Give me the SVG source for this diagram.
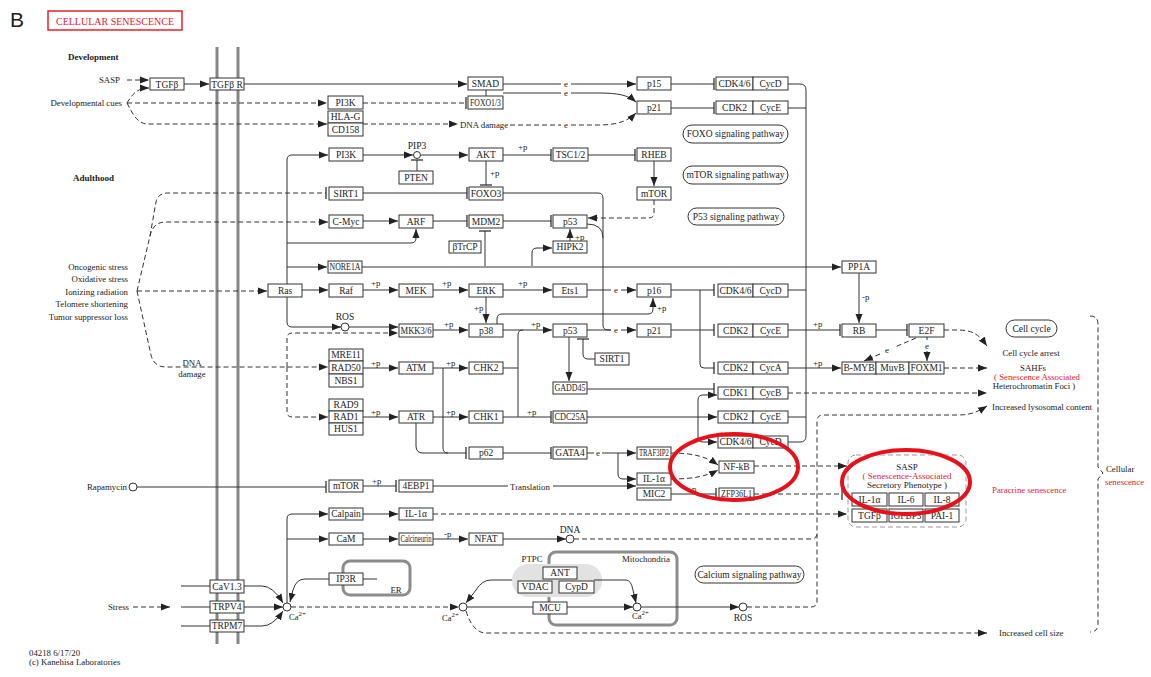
<svg xmlns="http://www.w3.org/2000/svg" width="1151" height="677" viewBox="0 0 1151 677">
<defs>
<style>
.b{fill:#fff;stroke:#333;stroke-width:1}
.pill{fill:#fff;stroke:#333;stroke-width:1}
text{font-family:"Liberation Serif","Times New Roman",serif;font-size:9.5px;fill:#222}
.t{text-anchor:middle}
.lab text{font-size:8.8px}
.lab text.e{font-size:9px;text-anchor:middle}
.s{fill:none;stroke:#333;stroke-width:1}
.d{fill:none;stroke:#333;stroke-width:1;stroke-dasharray:5 3}
.a{marker-end:url(#arr)}
.i{marker-end:url(#inh)}
text.red,.red{fill:#e8202a}
.mem{stroke:#868686;stroke-width:3}
.org{fill:none;stroke:#8c8c8c;stroke-width:3}
.lab text.bold{font-weight:bold;font-size:9px}
.cir{fill:#fff;stroke:#333;stroke-width:1}
.hl{fill:none;stroke:#e8101a;stroke-width:4}
</style>
<marker id="arr" markerUnits="userSpaceOnUse" markerWidth="9" markerHeight="8" viewBox="0 0 9 8" refX="9" refY="4" orient="auto"><path d="M0,0.5 L9,4 L0,7.5z" fill="#222"/></marker>
<marker id="inh" markerUnits="userSpaceOnUse" markerWidth="2" markerHeight="12" viewBox="0 0 2 12" refX="1" refY="6" orient="auto"><path d="M1,0 V12" stroke="#222" stroke-width="1.2"/></marker>
</defs>
<rect width="1151" height="677" fill="#fff"/>
<g id="title">
<text x="10" y="27" style="font-family:'Liberation Sans',Arial,sans-serif;font-size:21px">B</text>
<rect x="48" y="11" width="134" height="19" fill="#fff" stroke="#e8202a" stroke-width="1.5"/>
<text class="t red" x="115" y="25" style="font-size:10px">CELLULAR SENESCENCE</text>
</g>
<g id="membrane">
<line class="mem" x1="217" y1="47" x2="217" y2="644"/>
<line class="mem" x1="238" y1="47" x2="238" y2="644"/>
</g>
<g id="compartments">
<rect id="ER" class="org" x="343" y="561" width="67" height="34" rx="7"/>
<rect id="Mitochondria" class="org" x="549" y="552" width="128" height="73" rx="7"/>
<rect id="PTPC" x="512" y="564" width="90" height="33" rx="16" fill="#e2e2e2"/>
<rect id="SASP-box" x="848" y="455" width="118" height="72" rx="8" fill="none" stroke="#999" stroke-dasharray="5 3"/>
</g>
<g id="connectors">
<path class="d a" d="M127,80 H149"/>
<path class="d a" d="M127,103 C133,93 138,88 149,88"/>
<path class="d a" d="M127,103 H327"/>
<path class="d a" d="M127,103 C133,115 138,124 148,124 H327"/>
<path class="s a" d="M184,84 H209"/>
<path class="s a" d="M244,84 H467"/>
<path class="s" d="M486,90 V96"/>
<path class="d i" d="M363,103 H466"/>
<path class="d a" d="M363,124 H458"/>
<path class="s" d="M503,84 H561"/>
<path class="s a" d="M571,84 H636"/>
<path class="s" d="M503,93 H561"/>
<path class="s a" d="M571,93 H598 C618,93 628,95 636,102"/>
<path class="d" d="M510,125 H561"/>
<path class="d a" d="M571,125 H598 C618,125 628,121 636,113"/>
<path class="s i" d="M671,84 H714"/>
<path class="s i" d="M671,108 H714"/>
<path class="s" d="M788,84 H800 Q806,84 806,90 V436 Q806,442 800,442 H788"/>
<path class="s" d="M788,108 H806"/>
<path class="s" d="M788,290 H806"/>
<path class="s" d="M788,417 H806"/>
<path class="s a" d="M287,284 V160 Q287,155 292,155 H328"/>
<path class="s a" d="M287,243 H411 Q416,243 416,238 V229"/>
<path class="s a" d="M287,267 H327"/>
<path class="s a" d="M287,297 V322 Q287,327 292,327 H341"/>
<path class="s a" d="M349,327 H398"/>
<path class="d a" d="M287,367 V338 Q287,333 292,333 H398"/>
<path class="d a" d="M287,367 V412 Q287,417 292,417 H328"/>
<path class="d a" d="M137,291 L150,236 Q153,222 166,222 H328"/>
<path class="d i" d="M150,236 L156,202 Q158,193 168,193 H326"/>
<path class="d a" d="M137,291 H267"/>
<path class="d a" d="M137,291 L151,355 Q154,367 166,367 H328"/>
<path class="s a" d="M363,155 H413"/>
<path class="s a" d="M421,155 H468"/>
<path class="s i" d="M417,171 V160"/>
<path class="s i" d="M503,155 H551"/>
<path class="s i" d="M588,155 H635"/>
<path class="s a" d="M654,161 V186"/>
<path class="s i" d="M486,161 V185"/>
<path class="d a" d="M654,200 V213 Q654,218 649,218 H588"/>
<path class="s i" d="M363,193 H467"/>
<path class="s" d="M503,193 H598 Q603,193 603,198 V325 Q603,330 608,330 H611"/>
<path class="s" d="M587,224 Q603,224 603,238"/>
<path class="s a" d="M363,221 H398"/>
<path class="s i" d="M433,221 H467"/>
<path class="s i" d="M503,221 H551"/>
<path class="s i" d="M485,266 V231"/>
<path class="s a" d="M532,266 V253 Q532,248 537,248 H552"/>
<path class="s a" d="M570,241 V229"/>
<path class="s a" d="M362,267 H841"/>
<path class="s a" d="M302,290 H328"/>
<path class="s a" d="M363,290 H398"/>
<path class="s a" d="M433,290 H468"/>
<path class="s a" d="M503,290 H552"/>
<path class="s" d="M587,290 H611"/>
<path class="s a" d="M621,290 H636"/>
<path class="s a" d="M486,297 V323"/>
<path class="s a" d="M433,330 H468"/>
<path class="s a" d="M503,330 H552"/>
<path class="s a" d="M497,324 V319 Q497,314 502,314 H648 Q653,314 653,309 V298"/>
<path class="s" d="M587,330 H611"/>
<path class="s a" d="M621,330 H636"/>
<path class="s a" d="M569,337 V381"/>
<path class="s i" d="M595,359 H588 Q583,359 583,354 V339"/>
<path class="s i" d="M671,290 H714"/>
<path class="s i" d="M700,290 V364 Q700,368 704,368 H714"/>
<path class="s i" d="M671,330 H714"/>
<path class="s i" d="M788,330 H840"/>
<path class="s a" d="M859,273 V323"/>
<path class="s i" d="M876,330 H907"/>
<path class="s a" d="M788,368 H841"/>
<path class="d" d="M916,338 L895,347"/>
<path class="d a" d="M880,354 L864,361"/>
<path class="d" d="M927,337 V340"/>
<path class="d a" d="M927,351 V361"/>
<path class="d a" d="M944,330 H958 C974,330 980,336 987,346"/>
<path class="d a" d="M944,368 H987"/>
<path class="d a" d="M788,393 H987"/>
<path class="d a" d="M747,607 H811 Q817,607 817,601 V421 Q817,415 823,415 H958 C972,415 979,411 987,406"/>
<path class="d" d="M574,539 H811 Q817,539 817,533"/>
<path class="s i" d="M587,389 H714"/>
<path class="s a" d="M698,417 V400 Q698,395 703,395 H717"/>
<path class="s a" d="M698,417 V437 Q698,442 703,442 H717"/>
<path class="s a" d="M587,417 H717"/>
<path class="s" d="M503,368 H518"/>
<path class="s i" d="M503,417 H551"/>
<path class="s" d="M518,417 V335 Q518,330 523,330"/>
<path class="s a" d="M363,368 H398"/>
<path class="s a" d="M433,368 H468"/>
<path class="s a" d="M363,417 H398"/>
<path class="s a" d="M433,417 H468"/>
<path class="s" d="M443,368 V448 Q443,453 448,453"/>
<path class="s i" d="M416,423 V446 Q416,453 423,453 H466"/>
<path class="s i" d="M503,453 H551"/>
<path class="s" d="M587,453 H594"/>
<path class="s a" d="M602,453 H636"/>
<path class="s a" d="M618,453 V474 Q618,479 623,479 H636"/>
<path class="s" d="M433,486 H508"/>
<path class="s a" d="M553,486 H636"/>
<path class="d a" d="M671,453 C694,453 707,457 718,465"/>
<path class="d a" d="M671,479 C694,479 707,476 718,470"/>
<path class="s i" d="M671,494 H716"/>
<path class="d a" d="M754,466 H847"/>
<path class="d i" d="M754,494 H842"/>
<path class="d a" d="M433,514 H847"/>
<path class="s i" d="M137,487 H326"/>
<path class="s i" d="M363,486 H396"/>
<path class="s a" d="M287,603 V519 Q287,514 292,514 H328"/>
<path class="s a" d="M287,539 H328"/>
<path class="s a" d="M363,514 H398"/>
<path class="s a" d="M363,539 H398"/>
<path class="s a" d="M433,539 H468"/>
<path class="s a" d="M503,539 H566"/>
<path class="s" d="M363,579 H377"/>
<path class="s a" d="M329,579 H305 Q296,579 293,590 L290,602"/>
<path class="s" d="M181,586 H210"/>
<path class="s a" d="M244,586 H262 Q273,586 283,603"/>
<path class="s" d="M181,607 H210"/>
<path class="s a" d="M244,607 H283"/>
<path class="s" d="M181,626 H210"/>
<path class="s a" d="M244,626 H262 Q273,626 283,611"/>
<path class="d a" d="M133,607 H170"/>
<path class="d a" d="M291,607 H459"/>
<path class="s" d="M467,607 H533"/>
<path class="s a" d="M567,607 H633"/>
<path class="s a" d="M512,580 H491 Q482,580 476,590 L466,603"/>
<path class="s a" d="M594,580 H626 Q631,580 633,590 L636,603"/>
<path class="s a" d="M641,607 H739"/>
<path class="d a" d="M466,611 Q473,633 486,633 H987"/>
<path class="d" d="M1090,316 Q1098,316 1098,324 V467 L1103,473 L1098,479 V624 Q1098,632 1090,632"/>
</g>
<g id="edge-labels" class="lab">
<text class="e" x="566" y="87">e</text>
<text class="e" x="566" y="96">e</text>
<text class="e" x="566" y="128">e</text>
<text class="e" x="616" y="293">e</text>
<text class="e" x="616" y="333">e</text>
<text class="e" x="598" y="456">e</text>
<text class="e" x="887" y="353">e</text>
<text class="e" x="927" y="349">e</text>
<text x="518" y="150">+p</text>
<text x="490" y="176">+p</text>
<text x="575" y="240">+p</text>
<text x="371" y="286">+p</text>
<text x="442" y="286">+p</text>
<text x="518" y="286">+p</text>
<text x="474" y="311">+p</text>
<text x="444" y="327">+p</text>
<text x="531" y="327">+p</text>
<text x="657" y="311">+p</text>
<text x="813" y="327">+p</text>
<text x="813" y="366">+p</text>
<text x="862" y="300">-p</text>
<text x="371" y="366">+p</text>
<text x="446" y="366">+p</text>
<text x="371" y="415">+p</text>
<text x="446" y="415">+p</text>
<text x="527" y="415">+p</text>
<text x="372" y="484">+p</text>
<text x="444" y="537">-p</text>
<text x="687" y="492">+p</text>
</g>
<g id="nodes">
<g id="TGFb"><rect class="b" x="150" y="78" width="34" height="12"/><text class="t" x="167" y="87.5">TGFβ</text></g>
<g id="TGFbR"><rect class="b" x="210" y="78" width="34" height="12"/><text class="t" x="227" y="87.5">TGFβ R</text></g>
<g id="SMAD"><rect class="b" x="468" y="77" width="35" height="13"/><text class="t" x="485.5" y="87">SMAD</text></g>
<g id="FOXO13"><rect class="b" x="468" y="96" width="35" height="13"/><text class="t" x="485.5" y="106" textLength="31" lengthAdjust="spacingAndGlyphs">FOXO1/3</text></g>
<g id="PI3K-dev"><rect class="b" x="328" y="96" width="35" height="13"/><text class="t" x="345.5" y="106">PI3K</text></g>
<g id="HLAG-CD158"><rect class="b" x="328" y="111" width="35" height="12"/><text class="t" x="345.5" y="120">HLA-G</text><rect class="b" x="328" y="123" width="35" height="13"/><text class="t" x="345.5" y="133">CD158</text></g>
<g id="p15"><rect class="b" x="637" y="77" width="34" height="13"/><text class="t" x="654" y="87">p15</text></g>
<g id="p21-a"><rect class="b" x="637" y="101" width="34" height="13"/><text class="t" x="654" y="111">p21</text></g>
<g id="CDK46-a"><rect class="b" x="716" y="77" width="37" height="13"/><rect class="b" x="753" y="77" width="35" height="13"/><text class="t" x="734.5" y="87">CDK4/6</text><text class="t" x="770.5" y="87">CycD</text></g>
<g id="CDK2-a"><rect class="b" x="716" y="101" width="37" height="13"/><rect class="b" x="753" y="101" width="35" height="13"/><text class="t" x="734.5" y="111">CDK2</text><text class="t" x="770.5" y="111">CycE</text></g>
<g id="FOXO-pathway"><rect class="pill" x="683" y="125" width="105" height="18" rx="9"/><text class="t" x="735.5" y="137">FOXO signaling pathway</text></g>
<g id="mTOR-pathway"><rect class="pill" x="683" y="166" width="105" height="18" rx="9"/><text class="t" x="735.5" y="178">mTOR signaling pathway</text></g>
<g id="P53-pathway"><rect class="pill" x="688" y="208" width="96" height="17" rx="8.5"/><text class="t" x="736" y="219.5">P53 signaling pathway</text></g>
<g id="PI3K"><rect class="b" x="329" y="148" width="34" height="13"/><text class="t" x="346" y="158">PI3K</text></g>
<g id="PIP3"><circle class="cir" cx="417" cy="155" r="3.5"/><text class="t" x="417" y="149">PIP3</text></g>
<g id="PTEN"><rect class="b" x="399" y="171" width="34" height="13"/><text class="t" x="416" y="181">PTEN</text></g>
<g id="AKT"><rect class="b" x="469" y="148" width="34" height="13"/><text class="t" x="486" y="158">AKT</text></g>
<g id="TSC12"><rect class="b" x="553" y="148" width="35" height="13"/><text class="t" x="570.5" y="158">TSC1/2</text></g>
<g id="RHEB"><rect class="b" x="637" y="148" width="34" height="13"/><text class="t" x="654" y="158">RHEB</text></g>
<g id="mTOR-a"><rect class="b" x="637" y="187" width="34" height="13"/><text class="t" x="654" y="197">mTOR</text></g>
<g id="SIRT1-a"><rect class="b" x="329" y="187" width="34" height="13"/><text class="t" x="346" y="197">SIRT1</text></g>
<g id="FOXO3"><rect class="b" x="469" y="187" width="34" height="13"/><text class="t" x="486" y="197">FOXO3</text></g>
<g id="CMyc"><rect class="b" x="329" y="215" width="34" height="13"/><text class="t" x="346" y="225">C-Myc</text></g>
<g id="ARF"><rect class="b" x="399" y="215" width="34" height="13"/><text class="t" x="416" y="225">ARF</text></g>
<g id="MDM2"><rect class="b" x="469" y="215" width="34" height="13"/><text class="t" x="486" y="225">MDM2</text></g>
<g id="p53-a"><rect class="b" x="553" y="215" width="34" height="13"/><text class="t" x="570" y="225">p53</text></g>
<g id="bTrCP"><rect class="b" x="449" y="241" width="32" height="12"/><text class="t" x="465" y="250">βTrCP</text></g>
<g id="HIPK2"><rect class="b" x="553" y="241" width="34" height="12"/><text class="t" x="570" y="250">HIPK2</text></g>
<g id="NORE1A"><rect class="b" x="328" y="261" width="34" height="12"/><text class="t" x="345" y="270" textLength="31" lengthAdjust="spacingAndGlyphs">NORE1A</text></g>
<g id="PP1A"><rect class="b" x="842" y="261" width="34" height="12"/><text class="t" x="859" y="270">PP1A</text></g>
<g id="Ras"><rect class="b" x="268" y="284" width="34" height="13"/><text class="t" x="285" y="294">Ras</text></g>
<g id="Raf"><rect class="b" x="329" y="284" width="34" height="13"/><text class="t" x="346" y="294">Raf</text></g>
<g id="MEK"><rect class="b" x="399" y="284" width="34" height="13"/><text class="t" x="416" y="294">MEK</text></g>
<g id="ERK"><rect class="b" x="469" y="284" width="34" height="13"/><text class="t" x="486" y="294">ERK</text></g>
<g id="Ets1"><rect class="b" x="553" y="284" width="34" height="13"/><text class="t" x="570" y="294">Ets1</text></g>
<g id="p16"><rect class="b" x="637" y="284" width="34" height="13"/><text class="t" x="654" y="294">p16</text></g>
<g id="CDK46-b"><rect class="b" x="718" y="284" width="35" height="13"/><rect class="b" x="753" y="284" width="35" height="13"/><text class="t" x="735.5" y="294">CDK4/6</text><text class="t" x="770.5" y="294">CycD</text></g>
<g id="ROS-a"><circle class="cir" cx="345" cy="327" r="4"/><text class="t" x="345" y="320">ROS</text></g>
<g id="MKK36"><rect class="b" x="399" y="324" width="34" height="13"/><text class="t" x="416" y="334" textLength="31" lengthAdjust="spacingAndGlyphs">MKK3/6</text></g>
<g id="p38"><rect class="b" x="469" y="324" width="34" height="13"/><text class="t" x="486" y="334">p38</text></g>
<g id="p53-b"><rect class="b" x="553" y="324" width="34" height="13"/><text class="t" x="570" y="334">p53</text></g>
<g id="p21-b"><rect class="b" x="637" y="324" width="34" height="13"/><text class="t" x="654" y="334">p21</text></g>
<g id="CDK2-b"><rect class="b" x="718" y="324" width="35" height="13"/><rect class="b" x="753" y="324" width="35" height="13"/><text class="t" x="735.5" y="334">CDK2</text><text class="t" x="770.5" y="334">CycE</text></g>
<g id="RB"><rect class="b" x="842" y="324" width="34" height="13"/><text class="t" x="859" y="334">RB</text></g>
<g id="E2F"><rect class="b" x="909" y="324" width="35" height="13"/><text class="t" x="926.5" y="334">E2F</text></g>
<g id="SIRT1-b"><rect class="b" x="595" y="353" width="34" height="12"/><text class="t" x="612" y="362">SIRT1</text></g>
<g id="MRN"><rect class="b" x="329" y="349" width="34" height="12"/><text class="t" x="346" y="358">MRE11</text><rect class="b" x="329" y="361" width="34" height="13"/><text class="t" x="346" y="371">RAD50</text><rect class="b" x="329" y="374" width="34" height="13"/><text class="t" x="346" y="384">NBS1</text></g>
<g id="ATM"><rect class="b" x="399" y="362" width="34" height="12"/><text class="t" x="416" y="371">ATM</text></g>
<g id="CHK2"><rect class="b" x="469" y="362" width="34" height="12"/><text class="t" x="486" y="371">CHK2</text></g>
<g id="CDK2-c"><rect class="b" x="718" y="362" width="35" height="12"/><rect class="b" x="753" y="362" width="35" height="12"/><text class="t" x="735.5" y="371">CDK2</text><text class="t" x="770.5" y="371">CycA</text></g>
<g id="DREAM"><rect class="b" x="842" y="362" width="34" height="12"/><text class="t" x="859" y="371">B-MYB</text><rect class="b" x="876" y="362" width="33" height="12"/><text class="t" x="892.5" y="371">MuvB</text><rect class="b" x="909" y="362" width="35" height="12"/><text class="t" x="926.5" y="371">FOXM1</text></g>
<g id="GADD45"><rect class="b" x="553" y="382" width="34" height="12"/><text class="t" x="570" y="391" textLength="31" lengthAdjust="spacingAndGlyphs">GADD45</text></g>
<g id="CDK1"><rect class="b" x="718" y="387" width="35" height="12"/><rect class="b" x="753" y="387" width="35" height="12"/><text class="t" x="735.5" y="396">CDK1</text><text class="t" x="770.5" y="396">CycB</text></g>
<g id="911"><rect class="b" x="329" y="399" width="34" height="12"/><text class="t" x="346" y="408">RAD9</text><rect class="b" x="329" y="411" width="34" height="12"/><text class="t" x="346" y="420">RAD1</text><rect class="b" x="329" y="423" width="34" height="12"/><text class="t" x="346" y="432">HUS1</text></g>
<g id="ATR"><rect class="b" x="399" y="411" width="34" height="12"/><text class="t" x="416" y="420">ATR</text></g>
<g id="CHK1"><rect class="b" x="469" y="411" width="34" height="12"/><text class="t" x="486" y="420">CHK1</text></g>
<g id="CDC25A"><rect class="b" x="553" y="411" width="34" height="12"/><text class="t" x="570" y="420" textLength="31" lengthAdjust="spacingAndGlyphs">CDC25A</text></g>
<g id="CDK2-d"><rect class="b" x="718" y="411" width="35" height="12"/><rect class="b" x="753" y="411" width="35" height="12"/><text class="t" x="735.5" y="420">CDK2</text><text class="t" x="770.5" y="420">CycE</text></g>
<g id="CDK46-c"><rect class="b" x="718" y="436" width="35" height="12"/><rect class="b" x="753" y="436" width="35" height="12"/><text class="t" x="735.5" y="445">CDK4/6</text><text class="t" x="770.5" y="445">CycD</text></g>
<g id="p62"><rect class="b" x="469" y="447" width="34" height="12"/><text class="t" x="486" y="456">p62</text></g>
<g id="GATA4"><rect class="b" x="553" y="447" width="34" height="12"/><text class="t" x="570" y="456">GATA4</text></g>
<g id="TRAF3IP2"><rect class="b" x="637" y="447" width="34" height="12"/><text class="t" x="654" y="456" textLength="30" lengthAdjust="spacingAndGlyphs">TRAF3IP2</text></g>
<g id="IL1a-a"><rect class="b" x="637" y="473" width="34" height="12"/><text class="t" x="654" y="482">IL-1α</text></g>
<g id="MIC2"><rect class="b" x="637" y="488" width="34" height="12"/><text class="t" x="654" y="497">MIC2</text></g>
<g id="NFkB"><rect class="b" x="719" y="461" width="35" height="12"/><text class="t" x="736.5" y="470">NF-kB</text></g>
<g id="ZFP36L1"><rect class="b" x="719" y="488" width="35" height="12"/><text class="t" x="736.5" y="497" textLength="31" lengthAdjust="spacingAndGlyphs">ZFP36L1</text></g>
<g id="mTOR-b"><rect class="b" x="329" y="480" width="34" height="12"/><text class="t" x="346" y="489">mTOR</text></g>
<g id="4EBP1"><rect class="b" x="399" y="480" width="34" height="12"/><text class="t" x="416" y="489">4EBP1</text></g>
<g id="Calpain"><rect class="b" x="329" y="508" width="34" height="12"/><text class="t" x="346" y="517">Calpain</text></g>
<g id="IL1a-b"><rect class="b" x="399" y="508" width="34" height="12"/><text class="t" x="416" y="517">IL-1α</text></g>
<g id="CaM"><rect class="b" x="329" y="533" width="34" height="12"/><text class="t" x="346" y="542">CaM</text></g>
<g id="Calcineurin"><rect class="b" x="399" y="533" width="34" height="12"/><text class="t" x="416" y="542" textLength="31" lengthAdjust="spacingAndGlyphs">Calcineurin</text></g>
<g id="NFAT"><rect class="b" x="469" y="533" width="34" height="12"/><text class="t" x="486" y="542">NFAT</text></g>
<g id="DNA"><circle class="cir" cx="570" cy="539" r="4"/><text class="t" x="570" y="533">DNA</text></g>
<g id="SASP">
<text class="t" x="907" y="470" style="font-size:9px">SASP</text>
<text class="t red" x="907" y="479" style="font-size:9px">( Senescence-Associated</text>
<text class="t" x="907" y="488" style="font-size:9px">Secretory Phenotype )</text>
<rect class="b" x="852" y="493" width="35" height="13"/><text class="t" x="869.5" y="503">IL-1α</text>
<rect class="b" x="889" y="493" width="34" height="13"/><text class="t" x="906" y="503">IL-6</text>
<rect class="b" x="925" y="493" width="34" height="13"/><text class="t" x="942" y="503">IL-8</text>
<rect class="b" x="852" y="509" width="35" height="13"/><text class="t" x="869.5" y="519">TGFβ</text>
<rect class="b" x="889" y="509" width="34" height="13"/><text class="t" x="906" y="519" textLength="31" lengthAdjust="spacingAndGlyphs">IGFBP3</text>
<rect class="b" x="925" y="509" width="34" height="13"/><text class="t" x="942" y="519">PAI-1</text>
</g>
<g id="IP3R"><rect class="b" x="329" y="573" width="34" height="12"/><text class="t" x="346" y="582">IP3R</text></g>
<g id="ANT"><rect class="b" x="543" y="567" width="34" height="12"/><text class="t" x="560" y="576">ANT</text></g>
<g id="VDAC"><rect class="b" x="518" y="581" width="34" height="12"/><text class="t" x="535" y="590">VDAC</text></g>
<g id="CypD"><rect class="b" x="559" y="581" width="35" height="12"/><text class="t" x="576.5" y="590">CypD</text></g>
<g id="MCU"><rect class="b" x="533" y="602" width="34" height="12"/><text class="t" x="550" y="611">MCU</text></g>
<g id="CaV13"><rect class="b" x="210" y="580" width="34" height="13"/><text class="t" x="227" y="590">CaV1.3</text></g>
<g id="TRPV4"><rect class="b" x="210" y="601" width="34" height="12"/><text class="t" x="227" y="610">TRPV4</text></g>
<g id="TRPM7"><rect class="b" x="210" y="620" width="34" height="12"/><text class="t" x="227" y="629">TRPM7</text></g>
<g id="Calcium-pathway"><rect class="pill" x="695" y="566" width="109" height="17" rx="8.5"/><text class="t" x="749.5" y="578">Calcium signaling pathway</text></g>
<g id="Ca-a"><circle class="cir" cx="287" cy="607" r="4"/><text x="289" y="620" style="font-size:8.5px">Ca<tspan dy="-4" style="font-size:7px">2+</tspan></text></g>
<g id="Ca-b"><circle class="cir" cx="463" cy="607" r="4"/><text x="442" y="621" style="font-size:8.5px">Ca<tspan dy="-4" style="font-size:7px">2+</tspan></text></g>
<g id="Ca-c"><circle class="cir" cx="637" cy="607" r="4"/><text x="632" y="619" style="font-size:8.5px">Ca<tspan dy="-4" style="font-size:7px">2+</tspan></text></g>
<g id="ROS-b"><circle class="cir" cx="743" cy="607" r="4"/><text class="t" x="743" y="621">ROS</text></g>
<g id="Rapamycin"><circle class="cir" cx="133" cy="487" r="4"/><text x="127" y="490" text-anchor="end" style="font-size:8.8px">Rapamycin</text></g>
<g id="Cell-cycle"><rect class="pill" x="1006" y="320" width="51" height="17" rx="8.5"/><text class="t" x="1031.5" y="331.5">Cell cycle</text></g>
</g>
<g id="labels" class="lab">
<text class="bold" x="68" y="60">Development</text>
<text class="bold" x="73" y="181">Adulthood</text>
<text x="120" y="83" text-anchor="end">SASP</text>
<text x="122" y="106" text-anchor="end">Developmental cues</text>
<text x="460" y="128">DNA damage</text>
<text x="128" y="270" text-anchor="end">Oncogenic stress</text>
<text x="128" y="282" text-anchor="end">Oxidative stress</text>
<text x="128" y="295" text-anchor="end">Ionizing radiation</text>
<text x="128" y="307" text-anchor="end">Telomere shortening</text>
<text x="128" y="320" text-anchor="end">Tumor suppressor loss</text>
<text x="192" y="366" text-anchor="middle">DNA</text>
<text x="192" y="377" text-anchor="middle">damage</text>
<text x="530" y="490" text-anchor="middle">Translation</text>
<text x="129" y="610" text-anchor="end">Stress</text>
<text x="532" y="562" text-anchor="middle">PTPC</text>
<text x="646" y="562" text-anchor="middle">Mitochondria</text>
<text x="396" y="593" text-anchor="middle">ER</text>
<text x="1031" y="356" text-anchor="middle">Cell cycle arrest</text>
<text x="1033" y="371" text-anchor="middle">SAHFs</text>
<text class="red" x="1037" y="380" text-anchor="middle">( Senescence Associated</text>
<text x="1034" y="389" text-anchor="middle">Heterochromatin Foci )</text>
<text x="992" y="410" textLength="100" lengthAdjust="spacingAndGlyphs">Increased lysosomal content</text>
<text class="red" x="992" y="493">Paracrine  senescence</text>
<text x="999" y="636">Increased cell size</text>
<text x="1106" y="472">Cellular</text>
<text class="red" x="1105" y="485">senescence</text>
<text x="29" y="656">04218 6/17/20</text>
<text x="29" y="665">(c) Kanehisa Laboratories</text>
</g>
<g id="highlights">
<ellipse class="hl" cx="734" cy="467" rx="64" ry="33"/>
<ellipse class="hl" cx="906" cy="482" rx="64" ry="32"/>
</g>
</svg>
